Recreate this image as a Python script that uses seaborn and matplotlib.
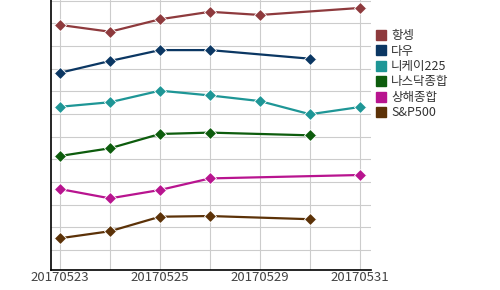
import numpy as np
import pandas as pd
import seaborn as sns
import matplotlib
matplotlib.use("Agg")
import matplotlib.pyplot as plt
from matplotlib.lines import Line2D

# ---- data (relative positions, NaN = market holiday) ----
dates = ["20170523", "20170524", "20170525", "20170526", "20170529", "20170530", "20170531"]
series_names = ["항셍", "다우", "니케이225", "나스닥종합", "상해종합", "S&P500"]
hangseng = [10.93, 10.63, 11.18, 11.51, 11.37, np.nan, 11.68]
dow      = [8.82, 9.34, 9.82, 9.82, np.nan, 9.44, np.nan]
nikkei   = [7.32, 7.52, 8.03, 7.82, 7.57, 6.99, 7.31]
nasdaq   = [5.15, 5.49, 6.12, 6.18, np.nan, 6.06, np.nan]
shanghai = [3.69, 3.28, 3.65, 4.16, np.nan, np.nan, 4.31]
sp500    = [1.52, 1.83, 2.47, 2.50, np.nan, 2.36, np.nan]
colors = ["#8E3A3D", "#0B3763", "#1E9696", "#0D5C0D", "#B8148F", "#5C3208"]
tick_labels = ["20170523", "", "20170525", "", "20170529", "", "20170531"]

values = [hangseng, dow, nikkei, nasdaq, shanghai, sp500]
rows = []
for name, vals in zip(series_names, values):
    for i, v in enumerate(vals):
        rows.append({"idx": i, "value": v, "series": name})
df = pd.DataFrame(rows).dropna()

sns.set_style("white")
plt.rcParams["font.family"] = ["Noto Sans CJK KR", "DejaVu Sans"]

fig = plt.figure(figsize=(5, 2.9), dpi=100)
ax = fig.add_axes([0.101, 0.069, 0.641, 0.931])

sns.lineplot(data=df, x="idx", y="value", hue="series", hue_order=series_names,
             palette=colors, marker="D", markersize=5.8, markeredgewidth=0.6,
             linewidth=1.6, errorbar=None, estimator=None, legend=False, ax=ax)

ax.set_xlim(-0.19, 6.22)
ax.set_ylim(0.12, 12.03)
ax.set_xticks(range(len(dates)))
ax.set_xticklabels(tick_labels, fontsize=9.5, color="#444444")
ax.set_yticks(range(1, 13))
ax.set_yticklabels([])
ax.tick_params(length=0, pad=1)
ax.grid(True, color="#cccccc", linewidth=0.8)
ax.set_axisbelow(True)
ax.set_xlabel("")
ax.set_ylabel("")
for s in ["top", "right"]:
    ax.spines[s].set_visible(False)
for s in ["left", "bottom"]:
    ax.spines[s].set_color("black")
    ax.spines[s].set_linewidth(1.2)

handles = [Line2D([], [], marker="s", linestyle="none", markersize=7.5,
                  markerfacecolor=c, markeredgecolor=c) for c in colors]
fig.legend(handles, series_names, loc="upper left",
           bbox_to_anchor=(376 / 500, 1 - 29 / 290), frameon=False,
           fontsize=9, handlelength=0.8, handletextpad=0.4,
           labelspacing=0.2, borderaxespad=0, borderpad=0, labelcolor="#333333")

fig.savefig("out.png", dpi=100)
